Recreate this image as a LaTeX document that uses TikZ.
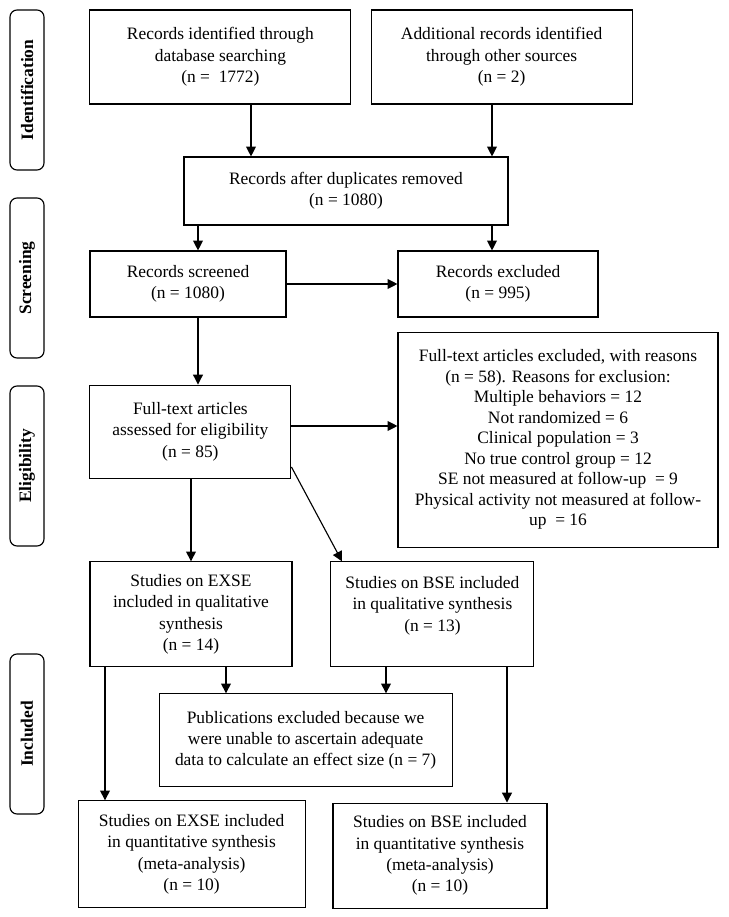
\documentclass[tikz,border=0pt]{standalone}
\usepackage{fontspec}
\setmainfont{Liberation Serif}
\usetikzlibrary{arrows.meta}

\begin{document}
\begin{tikzpicture}[x=1cm,y=-1cm,
  box/.style 2 args={draw,line width=0.8pt,align=center,inner sep=2pt,minimum width=#1cm,minimum height=#2cm,font=\fontsize{12.4}{15.2}\selectfont},
  phase/.style={draw,line width=0.8pt,rounded corners=5pt,rotate=90,minimum width=4cm,minimum height=0.85cm,font=\fontsize{12.4}{15}\selectfont\bfseries},
  arr/.style={line width=0.8pt,-{Triangle[length=7pt,width=7pt]}}]
\useasboundingbox (0,0) rectangle (18.225,22.925);
% phases
\node (pid) at (0.675,2.25) [phase] {Identification};
\node (pscr) at (0.675,6.95) [phase] {Screening};
\node (pelig) at (0.675,11.65) [phase] {Eligibility};
\node (pinc) at (0.675,18.35) [phase] {Included};
% boxes
\node (db) at (5.51,1.425) [box={6.525}{2.35}] {Records identified through\\database searching\\(n =\ \ 1772)};
\node (other) at (12.54,1.425) [box={6.525}{2.35}] {Additional records identified\\through other sources\\(n = 2)};
\node (dup) at (8.65,4.775) [box={8.1}{1.7}] {Records after duplicates removed\\(n = 1080)};
\node (scr) at (4.7,7.1) [box={4.9}{1.65}] {Records screened\\(n = 1080)};
\node (excl) at (12.45,7.1) [box={5.0}{1.65}] {Records excluded\\(n = 995)};
\node (ftexcl) at (13.95,10.99) [box={8.0}{5.375},font=\fontsize{12.4}{14.6}\selectfont] {Full-text articles excluded, with reasons\\(n = 58). Reasons for exclusion:\\Multiple behaviors = 12\\Not randomized = 6\\Clinical population = 3\\No true control group = 12\\SE not measured at follow-up\ \ = 9\\Physical activity not measured at follow-\\up\ \ = 16};
\node (full) at (4.76,10.79) [box={5.025}{2.325}] {Full-text articles\\assessed for eligibility\\(n = 85)};
\node (exse) at (4.775,15.36) [box={5.05}{2.625}] {Studies on EXSE\\included in qualitative\\synthesis\\(n = 14)};
\node (bse) at (10.81,15.36) [box={5.075}{2.625}] {Studies on BSE included\\in qualitative synthesis\\(n = 13)\\\mbox{}};
\node (pub) at (7.64,18.51) [box={7.325}{2.325}] {Publications excluded because we\\were unable to ascertain adequate\\data to calculate an effect size (n = 7)};
\node (exseq) at (4.79,21.36) [box={5.675}{2.675}] {Studies on EXSE included\\in quantitative synthesis\\(meta-analysis)\\(n = 10)};
\node (bseq) at (11.0,21.39) [box={5.35}{2.625}] {Studies on BSE included\\in quantitative synthesis\\(meta-analysis)\\(n = 10)};
% arrows
\draw[arr] (db.south -| 6.275,0) -- (dup.north -| 6.275,0);
\draw[arr] (other.south -| 12.3,0) -- (dup.north -| 12.3,0);
\draw[arr] (dup.south -| 4.95,0) -- (scr.north -| 4.95,0);
\draw[arr] (dup.south -| 12.3,0) -- (excl.north -| 12.3,0);
\draw[arr] (scr.east) -- (excl.west);
\draw[arr] (scr.south -| 4.95,0) -- (full.north -| 4.95,0);
\draw[arr] (full.east |- 0,10.65) -- (ftexcl.west |- 0,10.65);
\draw[arr] (full.south -| exse.north) -- (exse.north);
\draw[arr] (full.east |- 0,11.675) -- (bse.north -| 8.55,0);
\draw[arr] (exse.south -| 5.65,0) -- (pub.north -| 5.65,0);
\draw[arr] (bse.south -| 9.65,0) -- (pub.north -| 9.65,0);
\draw[arr] (exse.south -| 2.625,0) -- (exseq.north -| 2.625,0);
\draw[arr] (bse.south -| 12.675,0) -- (bseq.north -| 12.675,0);
\end{tikzpicture}
\end{document}
